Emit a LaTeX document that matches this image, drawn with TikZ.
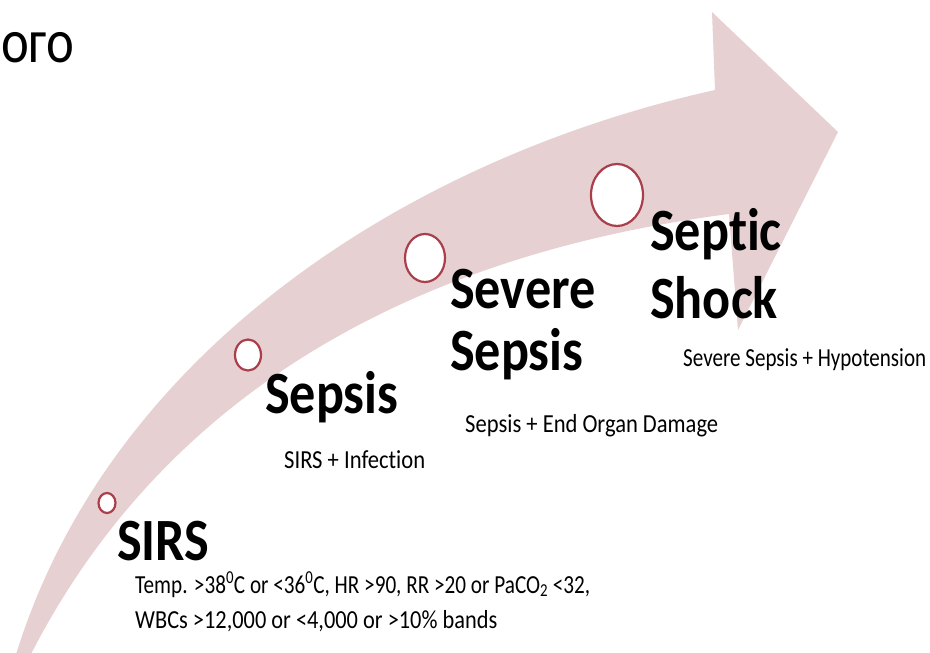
\documentclass[tikz,border=0pt]{standalone}
\usepackage{fontspec}
\usepackage{graphicx}
\setmainfont{Carlito}
\newfontfamily\calb[FakeStretch=0.87,Ligatures={NoCommon,NoRare}]{Carlito}
\newfontfamily\caln[Ligatures={NoCommon,NoRare}]{Carlito}
\newfontfamily\cyr[FakeStretch=0.85]{Carlito}
\newcommand{\fitw}[2]{\resizebox{#1}{\height}{#2}}
\definecolor{bandpink}{RGB}{230,208,210}
\definecolor{ringred}{RGB}{170,62,74}
\begin{document}
\begin{tikzpicture}[x=1pt,y=-1pt,
  stage/.style={anchor=base west,inner sep=0pt,font=\calb\fontsize{60}{62}\selectfont\bfseries},
  note/.style={anchor=base west,inner sep=0pt,font=\caln\fontsize{26}{34}\selectfont},
  ring/.style={draw=ringred,line width=2.2pt,fill=white}]
\useasboundingbox (0,0) rectangle (930,653);
\fill[white] (0,0) rectangle (930,653);
% band arrow
\fill[bandpink] (12,668) .. controls (100,360) and (400,160) .. (715,90)
  -- (712,12) -- (838,132) -- (738,330) -- (729,214)
  .. controls (450,250) and (170,370) .. (24,668) -- cycle;
% rings
\draw[ring] (107,503) ellipse [x radius=8.5,y radius=10];
\draw[ring] (248,355) ellipse [x radius=13,y radius=15.5];
\draw[ring] (425,258) ellipse [x radius=20,y radius=24];
\draw[ring] (617,195) ellipse [x radius=26,y radius=31];
% cut title
\node[anchor=base west,inner sep=0pt,font=\cyr\fontsize{62}{62}\selectfont] (ttl) at (1,62) {ого};
% stage names
\node[stage] (sirs) at (117,560) {SIRS};
\node[stage] (sepsis) at (265,413) {Sepsis};
\node[stage] (severe) at (450,308) {Severe};
\node[stage] (severe2) at (450,370) {Sepsis};
\node[stage] (septic) at (650,250) {Septic};
\node[stage] (shock) at (650,318) {Shock};
% notes
\node[note] (n1) at (135,593) {\fitw{455pt}{Temp. >38\textsuperscript{0}C or <36\textsuperscript{0}C, HR >90, RR >20 or PaCO\textsubscript{2} <32,}};
\node[note] (n1b) at (135,628) {\fitw{362pt}{WBCs >12,000 or <4,000 or >10\% bands}};
\node[note] (n2) at (284,468) {\fitw{141pt}{SIRS + Infection}};
\node[note] (n3) at (465,432) {\fitw{253pt}{Sepsis + End Organ Damage}};
\node[note] (n4) at (683,366) {\fitw{243pt}{Severe Sepsis + Hypotension}};
\end{tikzpicture}
\end{document}
